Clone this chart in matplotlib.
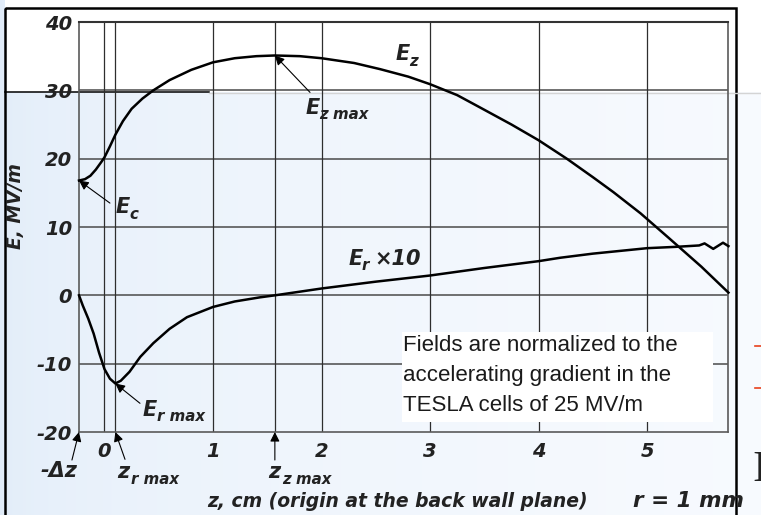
import numpy as np
import matplotlib.pyplot as plt
from matplotlib.patches import Rectangle

plt.rcParams['axes.unicode_minus'] = False

# z in cm, origin at the back wall plane; fields in MV/m
z_ez = [-0.235, -0.18, -0.13, -0.08, -0.03, 0.0, 0.05, 0.1, 0.17, 0.25, 0.35,
        0.45, 0.6, 0.8, 1.0, 1.2, 1.4, 1.57, 1.8, 2.0, 2.3, 2.54, 2.8, 3.0,
        3.25, 3.46, 3.75, 4.0, 4.26, 4.5, 4.69, 4.94, 5.2, 5.5, 5.75]
ez = [16.8, 17.0, 17.5, 18.4, 19.5, 20.2, 21.8, 23.5, 25.5, 27.3, 28.8,
      30.0, 31.5, 33.0, 34.1, 34.7, 35.0, 35.1, 35.0, 34.7, 34.0, 33.1, 32.0, 30.9,
      29.3, 27.5, 25.0, 22.7, 20.0, 17.3, 15.1, 12.0, 8.4, 4.2, 0.4]

z_er = [-0.235, -0.2, -0.15, -0.1, -0.05, 0.0, 0.05, 0.1, 0.15, 0.23, 0.33,
        0.45, 0.6, 0.76, 1.0, 1.2, 1.43, 1.57, 2.0, 2.5, 3.0, 3.5, 4.0, 4.2,
        4.5, 5.0, 5.27, 5.48, 5.53, 5.61, 5.7, 5.75]
er10 = [0.0, -1.5, -3.4, -5.6, -8.4, -10.8, -12.2, -12.9, -12.5, -11.2, -9.0,
        -7.0, -4.9, -3.2, -1.7, -0.9, -0.3, 0.0, 1.0, 2.0, 2.9, 4.0, 5.0, 5.5,
        6.1, 6.9, 7.1, 7.3, 7.6, 6.8, 7.7, 7.2]

x_ticks = [0, 1, 2, 3, 4, 5]
y_ticks = [-20, -10, 0, 10, 20, 30, 40]
note_lines = ['Fields are normalized to the',
              'accelerating gradient in the',
              'TESLA cells of 25 MV/m']

W, H = 761, 515
BI = dict(family='DejaVu Sans', weight='bold', style='italic', color='#222222')

fig = plt.figure(figsize=(W / 100, H / 100), dpi=100)

# slide backdrop, drawn in pixel units
bg = fig.add_axes([0, 0, 1, 1], zorder=0)
bg.set_xlim(0, W)
bg.set_ylim(H, 0)
bg.axis('off')
t = np.linspace(0, 1, 300) ** 0.45
c1 = np.array([0.88, 0.925, 0.975])
c2 = np.array([0.97, 0.982, 0.998])
grad = (1 - t)[None, :, None] * c1 + t[None, :, None] * c2
grad = np.repeat(grad, 20, axis=0)
bg.imshow(grad, extent=[0, W, H, 0], aspect='auto')
bg.add_patch(Rectangle((5, 0), W - 5, 92, color='white', lw=0))
bg.plot([5, 209], [92, 92], color='black', lw=1.1)
bg.plot([209, W], [93, 93], color='#d4d4d4', lw=1.0)
bg.add_patch(Rectangle((4.5, 7.5), 731.5, 520, fill=False, ec='black', lw=1.8))
bg.plot([755, W], [346, 346], color='#e8401c', lw=1.2)
bg.plot([755, W], [388, 388], color='#e8401c', lw=1.2)
bg.text(752, 481, 'I', family='Liberation Serif', fontsize=32, color='#222222',
        va='baseline', ha='left')

# field plot
ax = fig.add_axes([79 / W, 1 - 432 / H, 649 / W, 410 / H], zorder=1)
ax.patch.set_alpha(0)
ax.set_xlim(-0.235, 5.746)
ax.set_ylim(-20, 40)

ax.set_xticks(x_ticks)
ax.set_yticks(y_ticks)
ax.tick_params(length=0)
ax.tick_params(axis='x', pad=7)
ax.tick_params(axis='y', pad=5)
for lab in ax.get_xticklabels() + ax.get_yticklabels():
    lab.set(fontsize=14, **BI)

for y in y_ticks[1:-1]:
    ax.axhline(y, color='#4a4a4a', lw=1.1, zorder=1)

i_rmax = int(np.argmin(er10))
i_zmax = int(np.argmax(ez))
z_rmax = z_er[i_rmax]
z_zmax = z_ez[i_zmax]
for x in x_ticks + [z_rmax, z_zmax]:
    ax.axvline(x, color='#2e2e2e', lw=0.9, zorder=1)

for side in ['left', 'right', 'bottom']:
    ax.spines[side].set(color='#5a5a5a', lw=1.2)
ax.spines['top'].set(color='#333333', lw=1.5)

ax.plot(z_ez, ez, color='black', lw=1.8, zorder=4, clip_on=False)
ax.plot(z_er, er10, color='black', lw=1.8, zorder=4, clip_on=False)


def arrow(head, tail):
    ax.annotate('', xy=head, xytext=tail, annotation_clip=False,
                arrowprops=dict(arrowstyle='-|>', color='black', lw=0.8,
                                mutation_scale=14, shrinkA=0, shrinkB=0))


def sub_label(x, y, main, sub, size=15, extra=None):
    ax.text(x, y, main, fontsize=size, ha='left', va='baseline', zorder=6,
            clip_on=False, **BI)
    ax.annotate(sub, xy=(x, y), xytext=(size * 0.66, -size * 0.28),
                textcoords='offset points', fontsize=size * 0.72,
                ha='left', va='baseline', annotation_clip=False, zorder=6, **BI)
    if extra:
        ax.annotate(extra, xy=(x, y), xytext=(size * 1.25, 0),
                    textcoords='offset points', fontsize=size,
                    ha='left', va='baseline', annotation_clip=False, zorder=6, **BI)


# curve labels
sub_label(2.68, 34.4, 'E', 'z')
sub_label(1.85, 26.6, 'E', 'z max')
arrow((z_ez[i_zmax], ez[i_zmax]), (1.894, 29.7))
sub_label(0.10, 12.0, 'E', 'c')
arrow((z_ez[0], ez[0]), (0.05, 13.5))
sub_label(2.245, 4.5, 'E', 'r', extra='×10')
sub_label(0.355, -17.6, 'E', 'r max')
arrow((z_er[i_rmax], er10[i_rmax]), (0.327, -15.8))

# positions marked under the axis
ax.text(-0.594, -26.6, '-Δz', fontsize=15, ha='left', va='baseline',
        clip_on=False, **BI)
arrow((z_ez[0], -20), (-0.30, -24.1))
sub_label(0.115, -26.8, 'z', 'r max')
arrow((z_rmax, -20), (0.189, -24.0))
sub_label(1.507, -26.8, 'z', 'z max')
arrow((z_zmax, -20), (z_zmax, -24.1))

# normalisation note
ax.add_patch(Rectangle((0.4977, 0.0244), 0.4792, 0.2195, transform=ax.transAxes,
                       facecolor='white', edgecolor='none', zorder=5))
for k, line in enumerate(note_lines):
    ax.text(0.4985, 0.2098 - k * 0.072, line, transform=ax.transAxes,
            family='Liberation Sans', fontsize=16, color='#1a1a1a',
            ha='left', va='center', zorder=6)

fig.text(16 / W, 1 - 206 / H, 'E, MV/m', rotation=90, fontsize=13.5,
         ha='center', va='center', **BI)
fig.text(397 / W, 1 - 507 / H, 'z, cm (origin at the back wall plane)',
         fontsize=13.5, ha='center', va='baseline', **BI)
fig.text(633 / W, 1 - 507 / H, 'r = 1 mm', fontsize=15.5, ha='left',
         va='baseline', **BI)

fig.savefig('out.png', dpi=100)
